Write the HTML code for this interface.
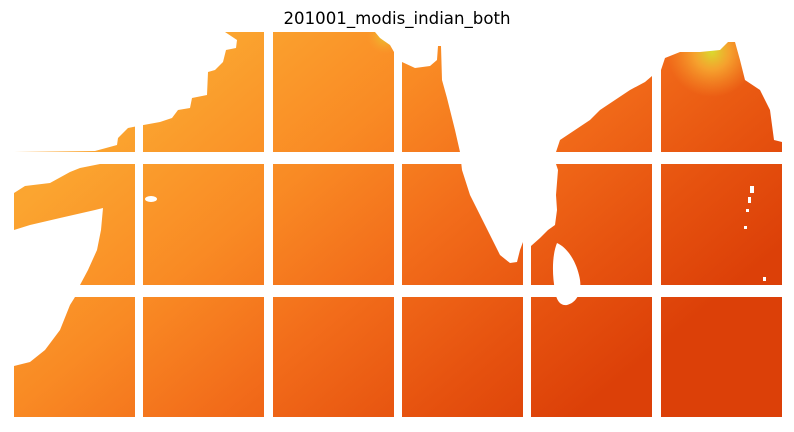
<!DOCTYPE html>
<html><head><meta charset="utf-8">
<style>
html,body{margin:0;padding:0;background:#fff;}
body{width:794px;height:427px;overflow:hidden;}
</style></head>
<body>
<svg width="794" height="427" viewBox="0 0 794 427" xmlns="http://www.w3.org/2000/svg">
<defs>
<linearGradient id="sea" gradientUnits="userSpaceOnUse" x1="230" y1="30" x2="560" y2="430">
<stop offset="0" stop-color="#fba530"/>
<stop offset="0.3" stop-color="#f98a24"/>
<stop offset="0.55" stop-color="#f26c1a"/>
<stop offset="0.8" stop-color="#e6520f"/>
<stop offset="1" stop-color="#dc4008"/>
</linearGradient>
<radialGradient id="yel" gradientUnits="userSpaceOnUse" cx="712" cy="52" r="45">
<stop offset="0" stop-color="#d8e030" stop-opacity="0.95"/>
<stop offset="0.4" stop-color="#f8b535" stop-opacity="0.75"/>
<stop offset="1" stop-color="#f8a030" stop-opacity="0"/>
</radialGradient>
<radialGradient id="yel2" gradientUnits="userSpaceOnUse" cx="385" cy="36" r="18">
<stop offset="0" stop-color="#e2d030" stop-opacity="0.9"/>
<stop offset="1" stop-color="#fba530" stop-opacity="0"/>
</radialGradient>
</defs>
<text x="397" y="24" text-anchor="middle" font-family="DejaVu Sans, Liberation Sans, sans-serif" font-size="16.6" fill="#000">201001_modis_indian_both</text>
<g>
<rect x="14" y="32" width="768" height="385" fill="url(#sea)"/>
<rect x="660" y="32" width="122" height="110" fill="url(#yel)"/>
<rect x="360" y="32" width="60" height="40" fill="url(#yel2)"/>
</g>
<g fill="#fff">
<polygon points="14,32 225,32 237,40 236,48 226,50 223,62 215,70 208,72 207,95 192,98 190,108 178,110 172,118 160,122 138,126 128,128 118,138 117,145 95,151 14,152"/>
<polygon points="14,164 100,164 80,168 70,172 50,183 25,186 14,193"/>
<polygon points="14,230 30,225 60,218 95,210 103,208 101,230 97,250 88,270 80,285 75,297 70,305 60,330 45,350 30,362 14,366"/>
<ellipse cx="151" cy="199" rx="6" ry="3"/>
<polygon points="264,32 375,32 380,38 390,45 394,52 394,32 402,32 402,62 415,68 430,66 437,60 438,46 441,46 442,80 447,98 455,130 460,152 462,170 470,195 480,215 490,235 500,255 510,263 517,262 520,250 523,242 531,246 540,238 548,230 555,225 557,210 556,195 558,170 556,164 556,152 560,140 575,130 590,120 600,110 615,100 630,90 645,82 652,76 652,32 661,32 661,70 665,58 680,52 700,52 720,50 728,42 735,42 740,60 745,80 760,90 770,110 774,140 782,142 782,32"/>
<path d="M557,243 C552,255 552,275 555,290 C556,300 560,306 567,305 C578,302 583,290 579,275 C576,262 568,248 557,243 Z"/>
<rect x="750" y="186" width="4" height="7"/><rect x="748" y="197" width="3" height="6"/><rect x="746" y="209" width="3" height="3"/><rect x="744" y="226" width="3" height="3"/><rect x="763" y="277" width="3" height="4"/>
</g>
<g fill="#fff">
<rect x="135" y="30" width="8" height="390"/>
<rect x="264" y="30" width="9" height="390"/>
<rect x="394" y="30" width="8" height="390"/>
<rect x="523" y="30" width="8" height="390"/>
<rect x="652" y="30" width="9" height="390"/>
<rect x="10" y="152" width="776" height="12"/>
<rect x="10" y="285" width="776" height="12"/>
</g>
</svg>
</body></html>
